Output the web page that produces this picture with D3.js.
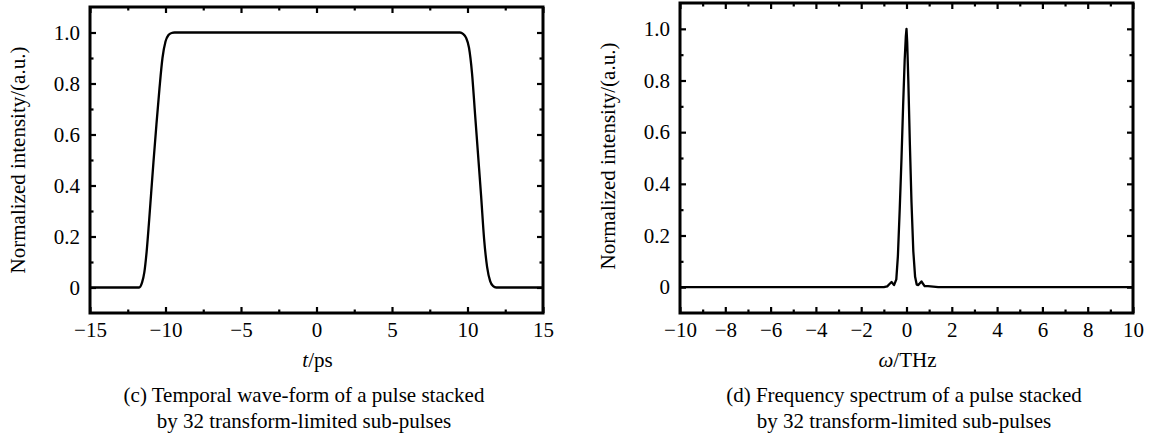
<!DOCTYPE html>
<html>
<head>
<meta charset="utf-8">
<script src="https://cdn.jsdelivr.net/npm/d3@7"></script>
<style>
  html, body { margin: 0; padding: 0; background: #fff; }
  svg { display: block; }
</style>
</head>
<body>
<svg id="chart" width="1153" height="436"></svg>
<script>
// ---------- data ----------
const yTicks = [0, 0.2, 0.4, 0.6, 0.8, 1.0];
const yTickLabels = ["0", "0.2", "0.4", "0.6", "0.8", "1.0"];
const yMinorTicks = [0.1, 0.3, 0.5, 0.7, 0.9];

const timeTicks = [-15, -10, -5, 0, 5, 10, 15];
const timeMinorTicks = [-12.5, -7.5, -2.5, 2.5, 7.5, 12.5];
const timeT = [-15, -11.75, -11.55, -11.4, -11.25, -11.1, -10.95, -10.8, -10.6, -10.4, -10.2, -10.0, -9.8, -9.6, -9.4,
               9.5, 9.7, 9.9, 10.1, 10.3, 10.5, 10.7, 10.9, 11.1, 11.3, 11.5, 11.7, 11.9, 15];
const timeI = [0, 0, 0.02, 0.06, 0.14, 0.25, 0.37, 0.49, 0.64, 0.78, 0.9, 0.965, 0.99, 0.998, 1.0,
               1.0, 0.995, 0.98, 0.94, 0.84, 0.68, 0.52, 0.36, 0.19, 0.08, 0.025, 0.005, 0, 0];

const freqTicks = [-10, -8, -6, -4, -2, 0, 2, 4, 6, 8, 10];
const freqMinorTicks = [-9, -7, -5, -3, -1, 1, 3, 5, 7, 9];
const freqW = [-10, -1.0, -0.85, -0.75, -0.66, -0.55, -0.45, -0.38, -0.3, -0.22, -0.15, -0.08, -0.03, 0, 0.03, 0.08, 0.15, 0.22, 0.3, 0.38, 0.45, 0.52, 0.66, 0.8, 0.95, 1.4, 10];
const freqI = [0, 0, 0.003, 0.012, 0.02, 0.008, 0.03, 0.12, 0.3, 0.5, 0.7, 0.88, 0.97, 1.0, 0.95, 0.8, 0.55, 0.33, 0.14, 0.04, 0.01, 0.008, 0.022, 0.004, 0.004, 0, 0];

const captionC = ["(c) Temporal wave-form of a pulse stacked", "by 32 transform-limited sub-pulses"];
const captionD = ["(d) Frequency spectrum of a pulse stacked", "by 32 transform-limited sub-pulses"];
const yLabel = "Normalized intensity/(a.u.)";

// ---------- layout ----------
const svg = d3.select("#chart");
const FONT = "'Liberation Serif', 'Times New Roman', Times, 'Nimbus Roman', 'DejaVu Serif', serif";
const FS = 21;

const panels = [
  { x0: 90, x1: 543, y0: 7, y1: 313, dom: [-15, 15], ticks: timeTicks, minor: timeMinorTicks,
    xs: timeT, ys: timeI, xlabel: ["t", "/ps"], caption: captionC, capX: 304, ylabX: 25, ylabY: 160, curve: d3.curveMonotoneX },
  { x0: 680, x1: 1133, y0: 3, y1: 313, dom: [-10, 10], ticks: freqTicks, minor: freqMinorTicks,
    xs: freqW, ys: freqI, xlabel: ["\u03c9", "/THz"], caption: captionD, capX: 904, ylabX: 615, ylabY: 156, curve: d3.curveLinear }
];

const fmtX = d => d3.format("d")(d);

panels.forEach(p => {
  const x = d3.scaleLinear().domain(p.dom).range([p.x0, p.x1]);
  const y = d3.scaleLinear().domain([-0.1, 1.1]).range([p.y1, p.y0]);
  const g = svg.append("g").attr("font-family", FONT);

  const addAxis = (axis, tr) => {
    const a = g.append("g").attr("transform", tr).call(axis);
    a.attr("font-family", FONT).attr("font-size", FS);
    a.select(".domain").remove();
    a.selectAll(".tick line").attr("stroke", "#000").attr("stroke-width", 2.2);
    a.selectAll("text").attr("fill", "#000");
    return a;
  };
  addAxis(d3.axisBottom(x).tickValues(p.ticks).tickSize(-6).tickPadding(9.5).tickFormat(fmtX), `translate(0,${p.y1})`);
  addAxis(d3.axisBottom(x).tickValues(p.minor).tickSize(-3.5).tickFormat(""), `translate(0,${p.y1})`);
  addAxis(d3.axisTop(x).tickValues(p.ticks).tickSize(-6).tickFormat(""), `translate(0,${p.y0})`);
  addAxis(d3.axisTop(x).tickValues(p.minor).tickSize(-3.5).tickFormat(""), `translate(0,${p.y0})`);
  addAxis(d3.axisLeft(y).tickValues(yTicks).tickSize(-6).tickPadding(10).tickFormat((d, i) => yTickLabels[i]), `translate(${p.x0},0)`);
  addAxis(d3.axisLeft(y).tickValues(yMinorTicks).tickSize(-3.5).tickFormat(""), `translate(${p.x0},0)`);
  addAxis(d3.axisRight(y).tickValues(yTicks).tickSize(-6).tickFormat(""), `translate(${p.x1},0)`);
  addAxis(d3.axisRight(y).tickValues(yMinorTicks).tickSize(-3.5).tickFormat(""), `translate(${p.x1},0)`);

  const pts = p.xs.map((v, i) => [v, p.ys[i]]);
  g.append("path")
    .datum(pts)
    .attr("fill", "none")
    .attr("stroke", "#000")
    .attr("stroke-width", 2.3)
    .attr("stroke-linejoin", "round")
    .attr("d", d3.line().x(d => x(d[0])).y(d => y(d[1])).curve(p.curve));

  g.append("rect")
    .attr("x", p.x0).attr("y", p.y0)
    .attr("width", p.x1 - p.x0).attr("height", p.y1 - p.y0)
    .attr("fill", "none").attr("stroke", "#000").attr("stroke-width", 3);

  const cx = (p.x0 + p.x1) / 2;
  const xl = g.append("text").attr("x", cx + 1).attr("y", 367).attr("text-anchor", "middle")
    .attr("font-family", FONT).attr("font-size", FS);
  xl.append("tspan").attr("font-style", "italic").text(p.xlabel[0]);
  xl.append("tspan").text(p.xlabel[1]);

  g.append("text")
    .attr("transform", `translate(${p.ylabX},${p.ylabY}) rotate(-90)`)
    .attr("text-anchor", "middle")
    .attr("font-family", FONT).attr("font-size", FS)
    .text(yLabel);

  p.caption.forEach((line, i) => {
    g.append("text").attr("x", p.capX).attr("y", 401.5 + i * 26)
      .attr("text-anchor", "middle")
      .attr("font-family", FONT).attr("font-size", FS)
      .text(line);
  });
});
</script>
</body>
</html>
